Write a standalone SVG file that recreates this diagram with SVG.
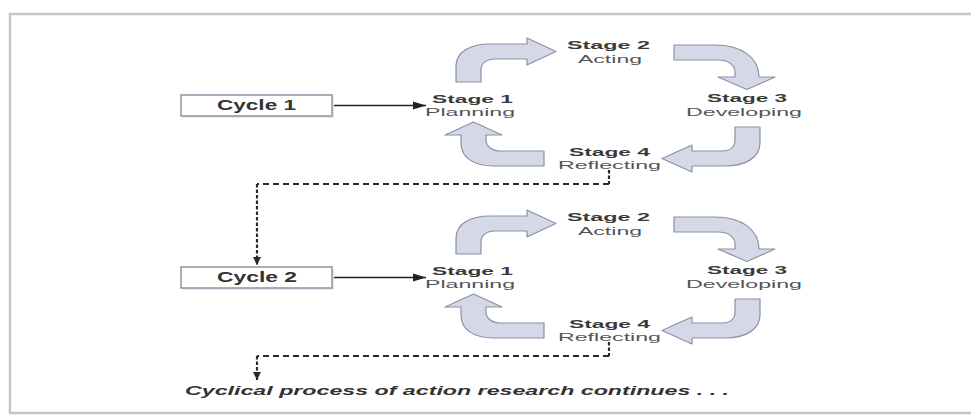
<svg xmlns="http://www.w3.org/2000/svg" width="971" height="417" viewBox="0 0 971 417">
  <style>
    .frame { fill: #ffffff; stroke: #c3c7cf; stroke-width: 2.5; }
    .box { fill: #ffffff; stroke: #8d93a7; stroke-width: 1.5; }
    .shadow { fill: #e6e8f0; }
    .boxtxt { font-family: "Liberation Sans", Arial, sans-serif; font-weight: bold; font-size: 14px; fill: #333333; }
    .stg { font-family: "Liberation Sans", Arial, sans-serif; font-weight: bold; font-size: 11.2px; fill: #3a3a3a; }
    .sub { font-family: "Liberation Sans", Arial, sans-serif; font-size: 11.2px; fill: #555555; }
    .note { font-family: "Liberation Sans", Arial, sans-serif; font-weight: bold; font-style: italic; font-size: 12.5px; fill: #333333; }
    .bend { fill: #d5d8e7; stroke: #8c90a6; stroke-width: 1.2; stroke-linejoin: round; }
    .solid { fill: none; stroke: #222222; stroke-width: 1.5; }
    .dashh { fill: none; stroke: #2a2a2a; stroke-width: 2; stroke-dasharray: 6 4; }
    .dashv { fill: none; stroke: #2a2a2a; stroke-width: 2.2; stroke-dasharray: 3.5 2; }
  </style>
  <defs>
    <marker id="head" markerUnits="userSpaceOnUse" markerWidth="14" markerHeight="10" refX="13" refY="4.5" orient="auto">
      <path d="M0,0.5 L13,4.5 L0,8.5 Z" fill="#222222"/>
    </marker>
    <marker id="dhead" markerUnits="userSpaceOnUse" markerWidth="9" markerHeight="10" refX="8" refY="4.5" orient="auto">
      <path d="M0,0.5 L8,4.5 L0,8.5 Z" fill="#2a2a2a"/>
    </marker>
    <g id="cyclebends">
      <path class="bend" d="M456,82 L456,66 C456,52 470,44 490,44 L527,44 L527,38 L556,51.5 L527,65 L527,59 L495,59 C487,59 481,63 481,70 L481,82 Z"/>
      <path class="bend" d="M674,45 L715,45 C742,45 759,58 759,77 L775,77 L747,89.5 L718,77 L735,77 L735,72 C735,65 728,60 718,60 L674,60 Z"/>
      <path class="bend" d="M760,127 L760,143 C760,158 745,166 725,166 L692,166 L692,172 L662,158.5 L692,145 L692,151 L722,151 C730,151 735,147 735,140 L735,127 Z"/>
      <path class="bend" d="M544,151 L500,151 C492,151 486,146 486,140 L486,135 L502,135 L473.5,122 L445,135 L461,135 L461,143 C461,158 474,166 494,166 L544,166 Z"/>
    </g>
  </defs>

  <rect class="frame" x="10" y="14" width="980" height="399"/>

  <g id="connectors">
    <g id="cycle1-bends"><use href="#cyclebends"/></g>
    <g id="cycle2-bends" transform="translate(0,172)"><use href="#cyclebends"/></g>
    <line class="solid" x1="332" y1="105.5" x2="426" y2="105.5" marker-end="url(#head)"/>
    <line class="solid" x1="332" y1="277.5" x2="426" y2="277.5" marker-end="url(#head)"/>
    <polyline class="dashv" points="609,170 609,184"/>
    <line class="dashh" x1="609" y1="184" x2="257" y2="184"/>
    <line class="dashv" x1="257" y1="184" x2="257" y2="265" marker-end="url(#dhead)"/>
    <polyline class="dashv" points="609,342 609,356"/>
    <line class="dashh" x1="609" y1="356" x2="257" y2="356"/>
    <line class="dashv" x1="257" y1="356" x2="257" y2="380" marker-end="url(#dhead)"/>
  </g>

  <g id="cycle1">
    <rect class="shadow" x="183" y="97" width="151" height="21"/>
    <rect class="box" x="181" y="95" width="151" height="21"/>
    <text class="boxtxt" x="217" y="110" textLength="79" lengthAdjust="spacingAndGlyphs">Cycle 1</text>
  </g>
  <g id="c1-stage1">
    <text class="stg" x="432" y="102.5" textLength="81" lengthAdjust="spacingAndGlyphs">Stage 1</text>
    <text class="sub" x="425" y="115.5" textLength="90" lengthAdjust="spacingAndGlyphs">Planning</text>
  </g>
  <g id="c1-stage2">
    <text class="stg" x="567" y="49" textLength="83" lengthAdjust="spacingAndGlyphs">Stage 2</text>
    <text class="sub" x="578" y="62.5" textLength="64" lengthAdjust="spacingAndGlyphs">Acting</text>
  </g>
  <g id="c1-stage3">
    <text class="stg" x="707" y="102" textLength="80" lengthAdjust="spacingAndGlyphs">Stage 3</text>
    <text class="sub" x="686" y="115.5" textLength="116" lengthAdjust="spacingAndGlyphs">Developing</text>
  </g>
  <g id="c1-stage4">
    <text class="stg" x="569" y="156" textLength="81" lengthAdjust="spacingAndGlyphs">Stage 4</text>
    <text class="sub" x="558" y="169" textLength="103" lengthAdjust="spacingAndGlyphs">Reflecting</text>
  </g>

  <g id="cycle2">
    <rect class="shadow" x="183" y="269" width="151" height="21"/>
    <rect class="box" x="181" y="267" width="151" height="21"/>
    <text class="boxtxt" x="217" y="282" textLength="80" lengthAdjust="spacingAndGlyphs">Cycle 2</text>
  </g>
  <g id="c2-stage1">
    <text class="stg" x="432" y="274.5" textLength="81" lengthAdjust="spacingAndGlyphs">Stage 1</text>
    <text class="sub" x="425" y="287.5" textLength="90" lengthAdjust="spacingAndGlyphs">Planning</text>
  </g>
  <g id="c2-stage2">
    <text class="stg" x="567" y="221" textLength="83" lengthAdjust="spacingAndGlyphs">Stage 2</text>
    <text class="sub" x="578" y="234.5" textLength="64" lengthAdjust="spacingAndGlyphs">Acting</text>
  </g>
  <g id="c2-stage3">
    <text class="stg" x="707" y="274" textLength="80" lengthAdjust="spacingAndGlyphs">Stage 3</text>
    <text class="sub" x="686" y="287.5" textLength="116" lengthAdjust="spacingAndGlyphs">Developing</text>
  </g>
  <g id="c2-stage4">
    <text class="stg" x="569" y="328" textLength="81" lengthAdjust="spacingAndGlyphs">Stage 4</text>
    <text class="sub" x="558" y="341" textLength="103" lengthAdjust="spacingAndGlyphs">Reflecting</text>
  </g>

  <g id="note">
    <text class="note" x="185" y="395" textLength="544" lengthAdjust="spacingAndGlyphs">Cyclical process of action research continues . . .</text>
  </g>
</svg>
